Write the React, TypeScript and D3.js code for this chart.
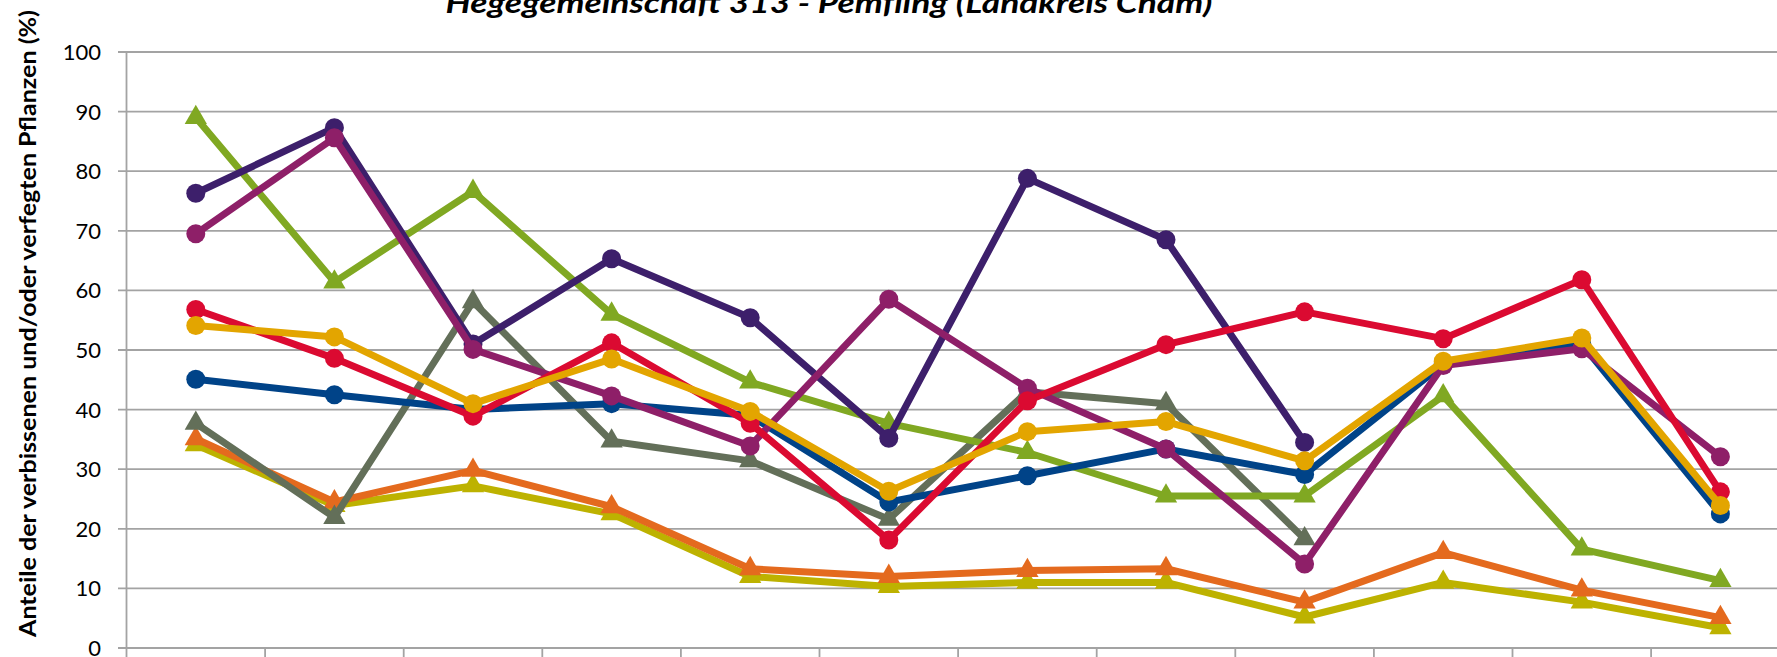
import React from "react";
import * as d3 from "d3";

const categories = ["K1", "K2", "K3", "K4", "K5", "K6", "K7", "K8", "K9", "K10", "K11", "K12"];
const yTicks = [0, 10, 20, 30, 40, 50, 60, 70, 80, 90, 100];
const title = "Hegegemeinschaft 313 - Pemfling (Landkreis Cham)";
const yLabel = "Anteile der verbissenen und/oder verfegten Pflanzen (%)";

// series values (null = no value)
const olive = [34.1, 23.9, 27.2, 22.5, 12.0, 10.3, 11.0, 11.0, 5.2, 11.0, 7.7, 3.4];
const orange = [35.1, 24.5, 29.8, 23.7, 13.3, 12.0, 13.0, 13.3, 7.7, 16.0, 9.7, 5.1];
const gray = [37.7, 21.9, 58.1, 34.7, 31.4, 21.6, 43.0, 41.0, 18.3, null, null, null];
const green = [89.0, 61.4, 76.6, 56.0, 44.6, 37.7, 32.8, 25.5, 25.5, 42.3, 16.6, 11.3];
const blue = [45.1, 42.5, 40.0, 41.0, 39.0, 24.5, 28.9, 33.4, 29.1, 47.6, 51.0, 22.5];
const darkPurple = [76.3, 87.3, 51.0, 65.3, 55.4, 35.2, 78.8, 68.5, 34.5, null, null, null];
const magenta = [69.5, 85.6, 50.1, 42.3, 33.9, 58.5, 43.6, 33.4, 14.1, 47.4, 50.2, 32.1];
const red = [56.8, 48.6, 38.9, 51.2, 37.7, 18.1, 41.5, 50.9, 56.4, 51.9, 61.8, 26.2];
const yellow = [54.1, 52.2, 41.0, 48.5, 39.7, 26.3, 36.3, 38.0, 31.4, 48.1, 52.0, 23.9];

type Series = { name: string; values: (number | null)[]; color: string; marker: "circle" | "triangle" };

const series: Series[] = [
  { name: "olive", values: olive, color: "#bdb200", marker: "triangle" },
  { name: "orange", values: orange, color: "#e46a1e", marker: "triangle" },
  { name: "gray", values: gray, color: "#636f59", marker: "triangle" },
  { name: "green", values: green, color: "#80a822", marker: "triangle" },
  { name: "blue", values: blue, color: "#004388", marker: "circle" },
  { name: "darkPurple", values: darkPurple, color: "#3d1f6b", marker: "circle" },
  { name: "magenta", values: magenta, color: "#8e1f68", marker: "circle" },
  { name: "red", values: red, color: "#db0a31", marker: "circle" },
  { name: "yellow", values: yellow, color: "#e3a500", marker: "circle" },
];

const W = 1777;
const H = 657;
const left = 126.5;
const band = 138.6;
const y0 = 648;
const y100 = 52;

export default function App() {
  const x = d3
    .scaleBand<string>()
    .domain(categories)
    .range([left, left + band * categories.length])
    .paddingInner(0)
    .paddingOuter(0);
  const y = d3.scaleLinear().domain([0, 100]).range([y0, y100]);
  const cx = (c: string) => (x(c) as number) + x.bandwidth() / 2;

  const line = d3
    .line<number | null>()
    .defined((d) => d !== null)
    .x((_, i) => cx(categories[i]))
    .y((d) => y(d as number));

  const tri = d3.symbol().type(d3.symbolTriangle).size(215)();
  const font = "Lato, 'Open Sans', 'DejaVu Sans', sans-serif";

  return (
    <svg
      width={W}
      height={H}
      style={{ position: "absolute", left: 0, top: 0, background: "#fff" }}
      fontFamily={font}
    >
      <rect x={0} y={0} width={W} height={H} fill="#fff" />
      {/* gridlines */}
      {yTicks.map((t) => (
        <line key={"g" + t} x1={118} x2={W} y1={y(t)} y2={y(t)} stroke="#a3a3a3" strokeWidth={1.8} />
      ))}
      {/* y axis line */}
      <line x1={left} x2={left} y1={y(100)} y2={y(0)} stroke="#a3a3a3" strokeWidth={1.8} />
      {/* x ticks */}
      {categories.map((c) => (
        <line
          key={"xt" + c}
          x1={x(c) as number}
          x2={x(c) as number}
          y1={y(0)}
          y2={H}
          stroke="#a3a3a3"
          strokeWidth={1.8}
        />
      ))}
      {/* y tick labels */}
      {yTicks.map((t) => (
        <text key={"yl" + t} x={101} y={y(t) + 8} textAnchor="end" fontSize={22} fill="#000">
          {t}
        </text>
      ))}
      {/* y label */}
      <text
        transform={`translate(36, ${323.5}) rotate(-90)`}
        textAnchor="middle"
        fontSize={23.5}
        fontWeight="bold"
        fill="#000"
        textLength={627}
        lengthAdjust="spacingAndGlyphs"
      >
        {yLabel}
      </text>
      {/* title */}
      <text
        x={829}
        y={13}
        textAnchor="middle"
        fontSize={28}
        fontWeight="bold"
        fontStyle="italic"
        fill="#000"
        textLength={767}
        lengthAdjust="spacingAndGlyphs"
      >
        {title}
      </text>
      {/* series */}
      {series.map((s) => (
        <g key={s.name}>
          <path d={line(s.values) || ""} fill="none" stroke={s.color} strokeWidth={7} strokeLinejoin="round" />
          {s.values.map((v, i) =>
            v === null ? null : s.marker === "circle" ? (
              <circle key={i} cx={cx(categories[i])} cy={y(v)} r={9.5} fill={s.color} />
            ) : (
              <path
                key={i}
                d={tri || ""}
                transform={`translate(${cx(categories[i])},${y(v)})`}
                fill={s.color}
              />
            )
          )}
        </g>
      ))}
    </svg>
  );
}
